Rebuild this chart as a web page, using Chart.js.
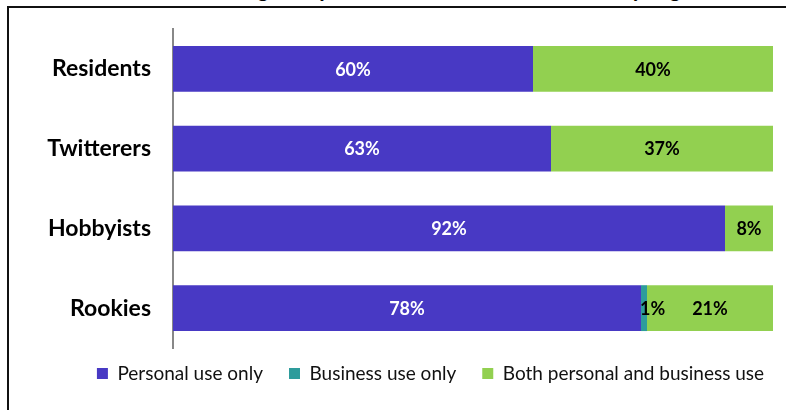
<!DOCTYPE html>
<html>
<head>
<meta charset="utf-8">
<script src="https://cdn.jsdelivr.net/npm/chart.js@4/dist/chart.umd.min.js"></script>
<style>
  html, body { margin: 0; padding: 0; background: #fff; overflow: hidden; }
  body { width: 786px; height: 410px; position: relative; }
  #frame { position: absolute; left: 7px; top: 6px; width: 820px; height: 440px;
           border-top: 2px solid #111; border-left: 2px solid #111; box-sizing: border-box; }
  #title { position: absolute; left: -31px; width: 860px; top: -24px; text-align: center;
           font: bold 22px Lato, sans-serif; color: #000; white-space: nowrap; line-height: 26px; }
  #wrap { position: absolute; left: 0; top: 0; }
</style>
</head>
<body>
<div id="title">Twitter account usage for personal and business reasons by segment</div>
<div id="frame"></div>
<div id="wrap"><canvas id="c" width="860" height="410"></canvas></div>
<script>
// Segments and share of each usage type (percent)
const segments = ['Residents', 'Twitterers', 'Hobbyists', 'Rookies'];
const personalOnly = [60, 63, 92, 78];
const businessOnly = [0, 0, 0, 1];
const bothUses = [40, 37, 8, 21];
const seriesNames = ['Personal use only', 'Business use only', 'Both personal and business use'];

const colors = ['#4839C4', '#2E9C9C', '#92D050'];
const labelColors = ['#ffffff', '#000000', '#000000'];

// Writes each segment's percentage inside its bar piece
const valueLabels = {
  id: 'valueLabels',
  afterDatasetsDraw(chart) {
    const ctx = chart.ctx;
    ctx.save();
    ctx.font = 'bold 18px Lato, sans-serif';
    ctx.textBaseline = 'middle';
    chart.data.datasets.forEach((ds, di) => {
      const meta = chart.getDatasetMeta(di);
      meta.data.forEach((bar, i) => {
        const v = ds.data[i];
        if (!v) return;
        const text = v + '%';
        const w = ctx.measureText(text).width;
        const left = Math.min(bar.base, bar.x);
        const right = Math.max(bar.base, bar.x);
        ctx.fillStyle = labelColors[di];
        if (right - left < w + 4) {
          ctx.textAlign = 'left';
          ctx.fillText(text, left - 1, bar.y + 1);
        } else {
          ctx.textAlign = 'center';
          ctx.fillText(text, (left + right) / 2, bar.y + 1);
        }
      });
    });
    ctx.restore();
  }
};

// Keeps the wide gaps between legend entries, pulls the row up closer to the bars
// and centres it under the whole frame rather than under the plot
const legendPlace = {
  id: 'legendPlace',
  afterLayout(chart) {
    const lg = chart.legend;
    if (lg) { lg.top -= 10; lg.bottom -= 10; lg.left += 44; lg.right += 44; }
  }
};

const seriesData = [personalOnly, businessOnly, bothUses];

new Chart(document.getElementById('c'), {
  type: 'bar',
  data: {
    labels: segments,
    datasets: seriesNames.map((name, k) => ({
      label: name,
      data: seriesData[k],
      backgroundColor: colors[k],
      borderWidth: 0,
      categoryPercentage: 1,
      barPercentage: 0.575
    }))
  },
  options: {
    indexAxis: 'y',
    responsive: false,
    animation: false,
    devicePixelRatio: 1,
    layout: { padding: { top: 29, right: 87, bottom: 7, left: 0 } },
    scales: {
      x: { stacked: true, min: 0, max: 100, display: false },
      y: {
        stacked: true,
        grid: { display: false, drawTicks: false },
        border: { display: true, color: '#888888', width: 2 },
        ticks: { color: '#000', padding: 22, font: { family: 'Lato', size: 23, weight: 'bold' } },
        afterFit(axis) {
          axis.width = 173;
          // labels sit mid-band, so no extra room is needed above or below the plot
          axis.paddingTop = 0;
          axis.paddingBottom = 0;
        }
      }
    },
    plugins: {
      title: { display: false },
      tooltip: { enabled: false },
      legend: {
        position: 'bottom',
        labels: {
          color: '#111',
          boxWidth: 11,
          boxHeight: 11,
          padding: 26,
          font: { family: 'Lato', size: 19 }
        }
      }
    }
  },
  plugins: [valueLabels, legendPlace]
});
</script>
</body>
</html>
